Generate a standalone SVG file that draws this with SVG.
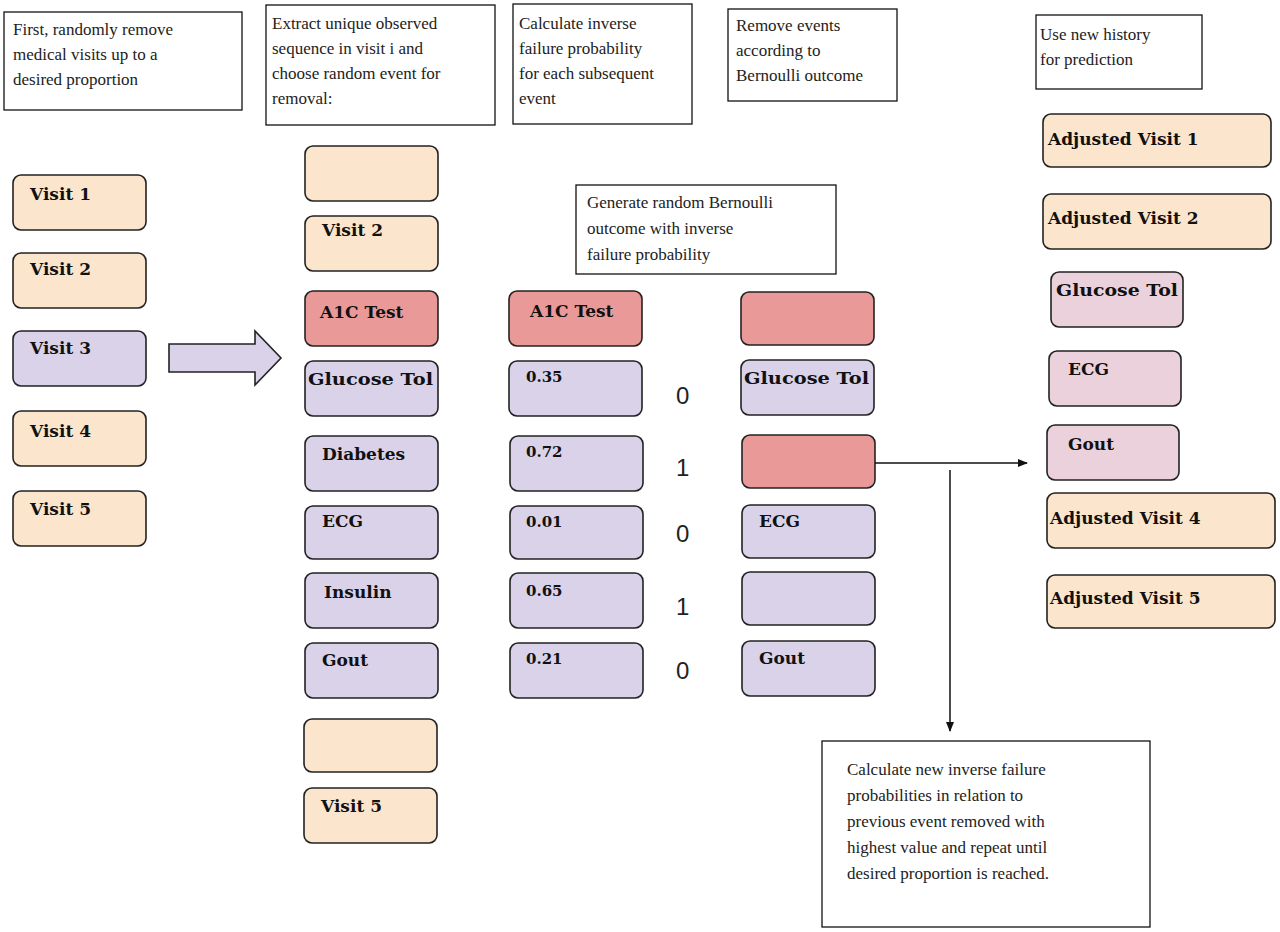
<svg xmlns="http://www.w3.org/2000/svg" width="1280" height="932" viewBox="0 0 1280 932">
<style>
.n{stroke:#222;stroke-width:1.6}
.p{fill:#fce5cd}.l{fill:#d9d2e9}.r{fill:#ea9999}.k{fill:#ead1dc}
.t{font-family:"DejaVu Serif","Liberation Serif",serif;font-weight:bold;font-size:17px;fill:#111}
.s{font-family:"DejaVu Serif","Liberation Serif",serif;font-weight:bold;font-size:15px;fill:#111}
.b{fill:#fff;stroke:#111;stroke-width:1.3}
.d{font-family:"Liberation Serif",serif;font-size:17px;fill:#222}
.z{font-family:"Liberation Sans",sans-serif;font-size:24px;fill:#222}
</style>
<defs><marker id="a" markerWidth="10" markerHeight="10" refX="9" refY="5" orient="auto" markerUnits="userSpaceOnUse"><path d="M0,1 L10,5 L0,9z" fill="#111"/></marker></defs>
<g id="notes">
<rect class="b" x="4" y="12" width="238" height="98"/>
<text class="d" x="13" y="35">First, randomly remove</text><text class="d" x="13" y="60">medical visits up to a</text><text class="d" x="13" y="85">desired proportion</text>
<rect class="b" x="266" y="5" width="229" height="120"/>
<text class="d" x="272" y="29">Extract  unique observed</text><text class="d" x="272" y="54">sequence in visit i and</text><text class="d" x="272" y="79">choose random event for</text><text class="d" x="272" y="104">removal:</text>
<rect class="b" x="513" y="4" width="179" height="120"/>
<text class="d" x="519" y="29">Calculate inverse</text><text class="d" x="519" y="54">failure probability</text><text class="d" x="519" y="79">for each subsequent</text><text class="d" x="519" y="104">event</text>
<rect class="b" x="728" y="9" width="169" height="92"/>
<text class="d" x="736" y="31">Remove events</text><text class="d" x="736" y="56">according to</text><text class="d" x="736" y="81">Bernoulli outcome</text>
<rect class="b" x="1036" y="15" width="166" height="74"/>
<text class="d" x="1040" y="40">Use new history</text><text class="d" x="1040" y="65">for prediction</text>
<rect class="b" x="576" y="185" width="260" height="89"/>
<text class="d" x="587" y="208">Generate random Bernoulli</text><text class="d" x="587" y="234">outcome with inverse</text><text class="d" x="587" y="260">failure probability</text>
<rect class="b" x="822" y="741" width="328" height="186"/>
<text class="d" x="847" y="775">Calculate new inverse failure</text><text class="d" x="847" y="801">probabilities in relation to</text><text class="d" x="847" y="827">previous event removed with</text><text class="d" x="847" y="853">highest value and repeat until</text><text class="d" x="847" y="879">desired proportion is reached.</text>
</g>
<g id="col1">
<g id="v1"><rect class="n p" x="13" y="175" width="133" height="55" rx="8"/><text class="t" x="30" y="200">Visit 1</text></g>
<g id="v2"><rect class="n p" x="13" y="253" width="133" height="55" rx="8"/><text class="t" x="30" y="275">Visit 2</text></g>
<g id="v3"><rect class="n l" x="13" y="331" width="133" height="55" rx="8"/><text class="t" x="30" y="354">Visit 3</text></g>
<g id="v4"><rect class="n p" x="13" y="411" width="133" height="55" rx="8"/><text class="t" x="30" y="437">Visit 4</text></g>
<g id="v5"><rect class="n p" x="13" y="491" width="133" height="55" rx="8"/><text class="t" x="30" y="515">Visit 5</text></g>
</g>
<g id="bigarrow"><path class="n l" d="M169,344 H255 V331 L281,358 L255,385 V372 H169 Z"/></g>
<g id="col2">
<rect class="n p" x="305" y="146" width="133" height="55" rx="8"/>
<g><rect class="n p" x="305" y="216" width="133" height="55" rx="8"/><text class="t" x="322" y="236">Visit 2</text></g>
<g><rect class="n r" x="305" y="291" width="133" height="55" rx="8"/><text class="t" x="320" y="318">A1C Test</text></g>
<g><rect class="n l" x="305" y="361" width="133" height="55" rx="8"/><text class="t" x="308" y="385" textLength="125" lengthAdjust="spacingAndGlyphs">Glucose Tol</text></g>
<g><rect class="n l" x="305" y="436" width="133" height="55" rx="8"/><text class="t" x="322" y="460">Diabetes</text></g>
<g><rect class="n l" x="305" y="506" width="133" height="53" rx="8"/><text class="t" x="322" y="527">ECG</text></g>
<g><rect class="n l" x="305" y="573" width="133" height="55" rx="8"/><text class="t" x="324" y="598">Insulin</text></g>
<g><rect class="n l" x="305" y="643" width="133" height="55" rx="8"/><text class="t" x="322" y="666">Gout</text></g>
<rect class="n p" x="304" y="719" width="133" height="53" rx="8"/>
<g><rect class="n p" x="304" y="788" width="133" height="55" rx="8"/><text class="t" x="321" y="812">Visit 5</text></g>
</g>
<g id="col3">
<g><rect class="n r" x="509" y="291" width="133" height="55" rx="8"/><text class="t" x="530" y="317">A1C Test</text></g>
<g><rect class="n l" x="509" y="361" width="133" height="55" rx="8"/><text class="s" x="526" y="382">0.35</text></g>
<g><rect class="n l" x="510" y="436" width="133" height="55" rx="8"/><text class="s" x="526" y="457">0.72</text></g>
<g><rect class="n l" x="510" y="506" width="133" height="53" rx="8"/><text class="s" x="526" y="527">0.01</text></g>
<g><rect class="n l" x="510" y="573" width="133" height="55" rx="8"/><text class="s" x="526" y="596">0.65</text></g>
<g><rect class="n l" x="510" y="643" width="133" height="55" rx="8"/><text class="s" x="526" y="664">0.21</text></g>
</g>
<g id="outcomes">
<text class="z" x="676" y="404">0</text><text class="z" x="676" y="476">1</text><text class="z" x="676" y="542">0</text><text class="z" x="676" y="615">1</text><text class="z" x="676" y="679">0</text>
</g>
<g id="col4">
<rect class="n r" x="741" y="292" width="133" height="53" rx="8"/>
<g><rect class="n l" x="741" y="360" width="133" height="55" rx="8"/><text class="t" x="744" y="384" textLength="125" lengthAdjust="spacingAndGlyphs">Glucose Tol</text></g>
<rect class="n r" x="742" y="435" width="133" height="53" rx="8"/>
<g><rect class="n l" x="742" y="505" width="133" height="53" rx="8"/><text class="t" x="759" y="527">ECG</text></g>
<rect class="n l" x="742" y="572" width="133" height="53" rx="8"/>
<g><rect class="n l" x="742" y="641" width="133" height="55" rx="8"/><text class="t" x="759" y="664">Gout</text></g>
</g>
<g id="col5">
<g><rect class="n p" x="1043" y="114" width="228" height="53" rx="8"/><text class="t" x="1048" y="145">Adjusted Visit 1</text></g>
<g><rect class="n p" x="1043" y="194" width="228" height="55" rx="8"/><text class="t" x="1048" y="224">Adjusted Visit 2</text></g>
<g><rect class="n k" x="1051" y="272" width="132" height="55" rx="8"/><text class="t" x="1056" y="296" textLength="122" lengthAdjust="spacingAndGlyphs">Glucose Tol</text></g>
<g><rect class="n k" x="1049" y="351" width="132" height="55" rx="8"/><text class="t" x="1068" y="375">ECG</text></g>
<g><rect class="n k" x="1047" y="425" width="132" height="55" rx="8"/><text class="t" x="1068" y="450">Gout</text></g>
<g><rect class="n p" x="1047" y="493" width="228" height="55" rx="8"/><text class="t" x="1050" y="524">Adjusted Visit 4</text></g>
<g><rect class="n p" x="1047" y="575" width="228" height="53" rx="8"/><text class="t" x="1050" y="604">Adjusted Visit 5</text></g>
</g>
<g id="connectors" stroke="#111" stroke-width="1.5" fill="none">
<line x1="875" y1="463" x2="1027" y2="463" marker-end="url(#a)"/>
<line x1="950" y1="470" x2="950" y2="731" marker-end="url(#a)"/>
</g>
</svg>
